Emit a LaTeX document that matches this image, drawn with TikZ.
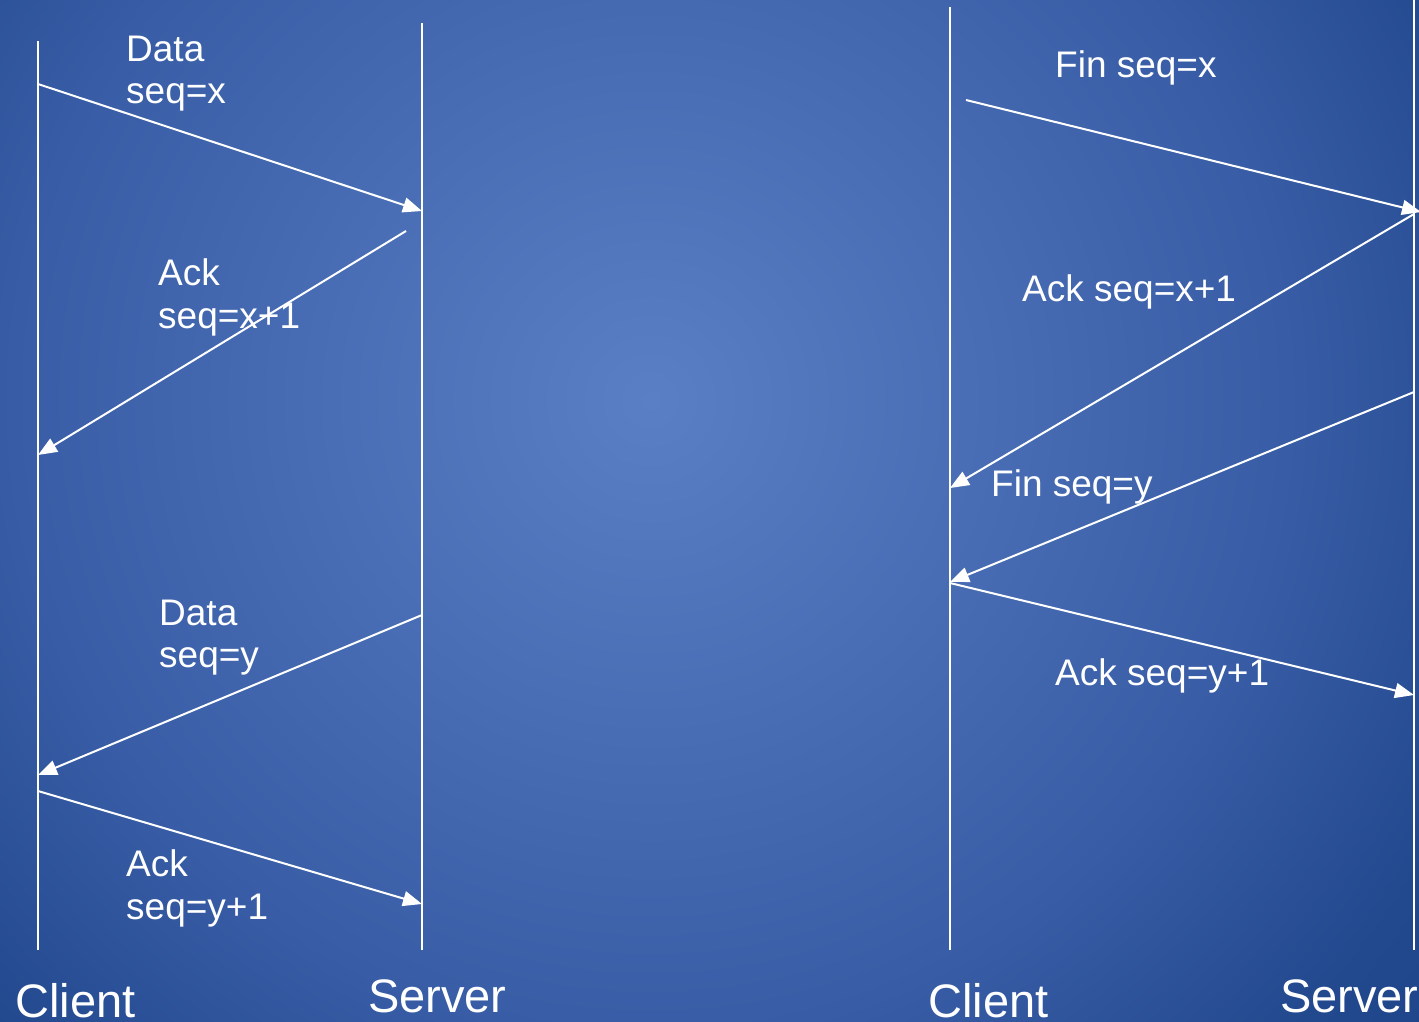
\documentclass[tikz,border=0pt]{standalone}
\usepackage{fontspec}
\setmainfont{Liberation Sans}
\usetikzlibrary{arrows.meta}
\definecolor{bgin}{HTML}{5A7FC4}
\definecolor{bgmid}{HTML}{385DA6}
\definecolor{bgout}{HTML}{22488E}
\definecolor{bgfar}{HTML}{1C4288}
% backdrop glow: light centre fading to deep blue
\pgfdeclareradialshading{backglow}{\pgfpoint{0bp}{0bp}}{%
  color(0bp)=(bgin); color(14.5bp)=(bgmid); color(20.5bp)=(bgout);
  color(25bp)=(bgfar); color(50bp)=(bgfar)}
\tikzset{
  lifeline/.style={draw=white, line width=2pt},
  msg/.style={draw=white, line width=2pt, -{Triangle[length=19pt,width=15pt]}},
  msgtext/.style={text=white, anchor=base west, inner sep=0pt, font=\fontsize{37}{43}\selectfont},
  endtext/.style={text=white, anchor=base west, inner sep=0pt, font=\fontsize{47}{56}\selectfont},
}
\begin{document}
\begin{tikzpicture}[x=1pt, y=-1pt]
  \useasboundingbox (0,0) rectangle (1419,1021);
  \clip (0,0) rectangle (1419,1021);
  % backdrop
  \fill[bgfar] (0,0) rectangle (1419,1021);
  \shade[shading=backglow] (650,400) circle (1100);

  % lifelines, left exchange
  \coordinate (lcT) at (38,41);   \coordinate (lcB) at (38,950);
  \coordinate (lsT) at (422,23);  \coordinate (lsB) at (422,950);
  % lifelines, right exchange
  \coordinate (rcT) at (950,7);   \coordinate (rcB) at (950,950);
  \coordinate (rsT) at (1414,0);  \coordinate (rsB) at (1414,950);
  \draw[lifeline] (lcT) -- (lcB);
  \draw[lifeline] (lsT) -- (lsB);
  \draw[lifeline] (rcT) -- (rcB);
  \draw[lifeline] (rsT) -- (rsB);

  % message end points, left exchange
  \coordinate (a1) at (38,84);   \coordinate (b1) at (422,211);
  \coordinate (a2) at (406,231); \coordinate (b2) at (38,455);
  \coordinate (a3) at (422,615); \coordinate (b3) at (38,775);
  \coordinate (a4) at (38,791);  \coordinate (b4) at (422,904);
  % message end points, right exchange
  \coordinate (a5) at (966,100);  \coordinate (b5) at (1421,212);
  \coordinate (a6) at (1414,214); \coordinate (b6) at (950,488);
  \coordinate (a7) at (1414,392); \coordinate (b7) at (950,582);
  \coordinate (a8) at (950,583);  \coordinate (b8) at (1414,695);

  \draw[msg] (a1) -- (b1);
  \draw[msg] (a2) -- (b2);
  \draw[msg] (a3) -- (b3);
  \draw[msg] (a4) -- (b4);
  \draw[msg] (a5) -- (b5);
  \draw[msg] (a6) -- (b6);
  \draw[msg] (a7) -- (b7);
  \draw[msg] (a8) -- (b8);

  % message labels
  \node[msgtext] (t1a) at (126,61)  {Data};
  \node[msgtext] (t1b) at (126,103) {seq=x};
  \node[msgtext] (t2a) at (158,285) {Ack};
  \node[msgtext] (t2b) at (158,328) {seq=x+1};
  \node[msgtext] (t3a) at (159,625) {Data};
  \node[msgtext] (t3b) at (159,667) {seq=y};
  \node[msgtext] (t4a) at (126,876) {Ack};
  \node[msgtext] (t4b) at (126,919) {seq=y+1};
  \node[msgtext] (t5) at (1055,77)  {Fin seq=x};
  \node[msgtext] (t6) at (1022,301) {Ack seq=x+1};
  \node[msgtext] (t7) at (991,496)  {Fin seq=y};
  \node[msgtext] (t8) at (1055,685) {Ack seq=y+1};

  % party names
  \node[endtext] (c1) at (15,1017)   {Client};
  \node[endtext] (s1) at (368,1012)  {Server};
  \node[endtext] (c2) at (928,1017)  {Client};
  \node[endtext] (s2) at (1280,1012) {Server};
\end{tikzpicture}
\end{document}
